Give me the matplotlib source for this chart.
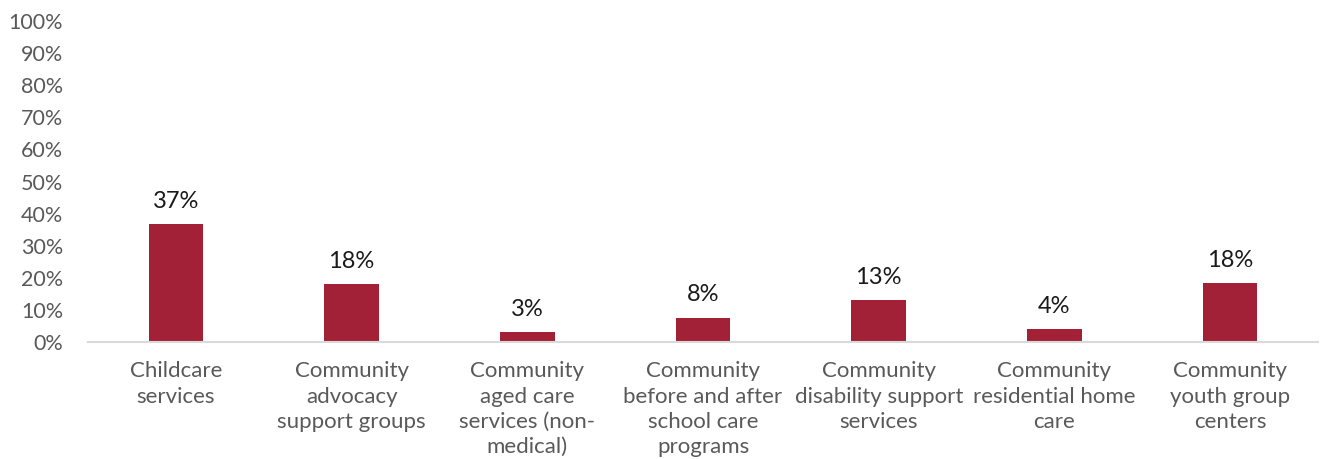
import matplotlib
matplotlib.use("Agg")
import matplotlib.pyplot as plt

categories = [
    "Childcare\nservices",
    "Community\nadvocacy\nsupport groups",
    "Community\naged care\nservices (non-\nmedical)",
    "Community\nbefore and after\nschool care\nprograms",
    "Community\ndisability support\nservices",
    "Community\nresidential home\ncare",
    "Community\nyouth group\ncenters",
]
values = [36.8, 18.1, 3.1, 7.6, 13.1, 4.0, 18.4]
yticks = list(range(0, 101, 10))
ytick_labels = [f"{t}%" for t in yticks]

plt.rcParams['font.family'] = ['Lato', 'DejaVu Sans']

fig = plt.figure(figsize=(13.35, 4.59), dpi=100)
ax = fig.add_axes([0.0659, 0.2549, 0.9214, 0.6993])

x = list(range(len(categories)))
bars = ax.bar(x, values, width=0.31, color="#A32136")
for xi, v in zip(x, values):
    ax.text(xi, v + 3.8, f"{round(v)}%", ha="center", va="bottom", fontsize=17, color="#1a1a1a")

ax.set_xlim(-0.5, len(categories) - 0.5)
ax.set_ylim(0, 100)
ax.set_yticks(yticks)
ax.set_yticklabels(ytick_labels, fontsize=15.5, color="#595959")
ax.set_xticks(x)
ax.set_xticklabels(categories, fontsize=16, color="#595959", linespacing=1.33, va="top")
ax.tick_params(axis="both", length=0)
ax.tick_params(axis="x", pad=14)
ax.tick_params(axis="y", pad=18)
for s in ["top", "right", "left"]:
    ax.spines[s].set_visible(False)
ax.spines["bottom"].set_color("#D9D9D9")
ax.spines["bottom"].set_linewidth(1.5)

fig.savefig("out.png", dpi=100)
